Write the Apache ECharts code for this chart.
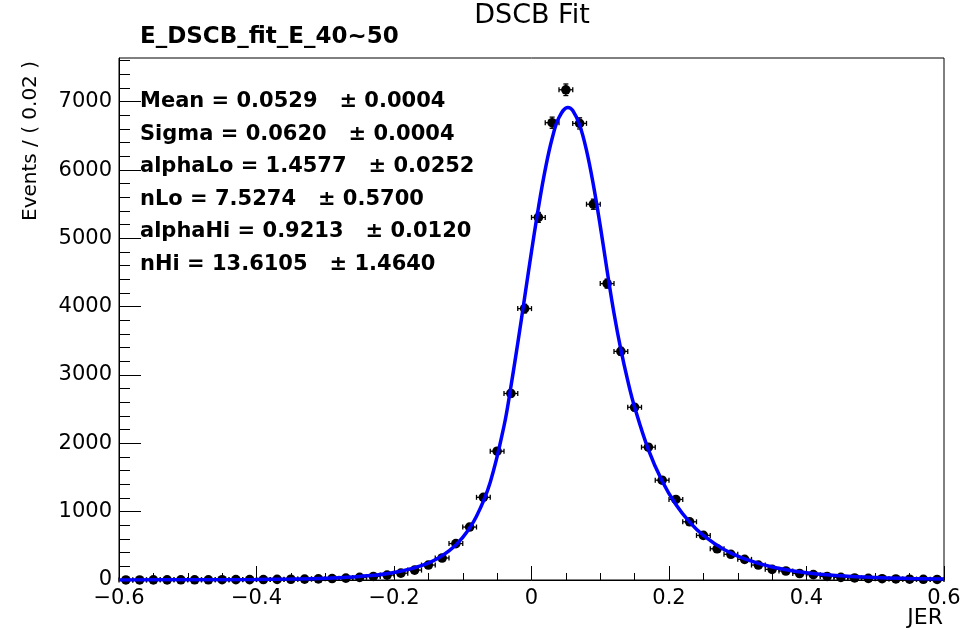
<!DOCTYPE html>
<html>
<head>
<meta charset="utf-8">
<script src="https://cdn.jsdelivr.net/npm/echarts@6/dist/echarts.min.js"></script>
<style>
  html, body { margin: 0; padding: 0; background: #fff; }
  #main { width: 968px; height: 630px; }
</style>
</head>
<body>
<div id="main"></div>
<script>
// histogram bins (width 0.02)
var binCenters = [-0.59, -0.57, -0.55, -0.53, -0.51, -0.49, -0.47, -0.45, -0.43, -0.41,
  -0.39, -0.37, -0.35, -0.33, -0.31, -0.29, -0.27, -0.25, -0.23, -0.21,
  -0.19, -0.17, -0.15, -0.13, -0.11, -0.09, -0.07, -0.05, -0.03, -0.01,
  0.01, 0.03, 0.05, 0.07, 0.09, 0.11, 0.13, 0.15, 0.17, 0.19,
  0.21, 0.23, 0.25, 0.27, 0.29, 0.31, 0.33, 0.35, 0.37, 0.39,
  0.41, 0.43, 0.45, 0.47, 0.49, 0.51, 0.53, 0.55, 0.57, 0.59];
var counts = [1, 1, 2, 2, 3, 3, 3, 4, 5, 6,
  7, 9, 11, 13, 17, 21, 27, 38, 52, 72,
  100, 145, 219, 322, 533, 775, 1210, 1885, 2730, 3972,
  5307, 6693, 7175, 6683, 5500, 4338, 3346, 2528, 1944, 1461,
  1179, 852, 653, 457, 376, 302, 219, 156, 132, 95,
  78, 52, 38, 30, 24, 19, 15, 12, 10, 8];
var halfBin = 0.01;

// fitted DSCB curve
var curveX = [-0.6, -0.5, -0.4, -0.35, -0.3, -0.25, -0.2, -0.15, -0.12, -0.1,
  -0.08, -0.06, -0.04, -0.03, -0.02, -0.01, 0, 0.01, 0.02, 0.03,
  0.04, 0.0529, 0.06, 0.07, 0.08, 0.09, 0.1, 0.11, 0.12, 0.13,
  0.14, 0.15, 0.17, 0.19, 0.21, 0.23, 0.25, 0.28, 0.31, 0.35,
  0.4, 0.45, 0.5, 0.55, 0.6];
var curveY = [1, 3, 8, 14, 26, 52, 109, 248, 425, 624,
  934, 1432, 2254, 2829, 3466, 4133, 4807, 5445, 6009, 6461,
  6769, 6917, 6872, 6659, 6287, 5783, 5183, 4526, 3905, 3371,
  2918, 2530, 1908, 1448, 1104, 847, 653, 446, 308, 191,
  107, 62, 36, 22, 13];

var yTicks = [0, 1000, 2000, 3000, 4000, 5000, 6000, 7000];
var yMax = 7640;
var statLines = [
  'Mean = 0.0529   \u00b1 0.0004',
  'Sigma = 0.0620   \u00b1 0.0004',
  'alphaLo = 1.4577   \u00b1 0.0252',
  'nLo = 7.5274   \u00b1 0.5700',
  'alphaHi = 0.9213   \u00b1 0.0120',
  'nHi = 13.6105   \u00b1 1.4640'
];

var yMinorTicks = [];
for (var v = 200; v < yMax; v += 200) {
  if (v % 1000 !== 0) yMinorTicks.push(v);
}

var FONT = 'DejaVu Sans';

function lineStyle() {
  return { stroke: '#000', lineWidth: 1.3 };
}

function renderPoint(params, api) {
  var x = api.value(0), y = api.value(1);
  var err = Math.sqrt(y);
  var p = api.coord([x, y]);
  var xl = api.coord([x - halfBin, y])[0];
  var xr = api.coord([x + halfBin, y])[0];
  var yt = api.coord([x, y + err])[1];
  var yb = api.coord([x, y - err])[1];
  var cap = 2.5;
  return {
    type: 'group',
    children: [
      { type: 'line', shape: { x1: xl, y1: p[1], x2: xr, y2: p[1] }, style: lineStyle() },
      { type: 'line', shape: { x1: xl, y1: p[1] - cap, x2: xl, y2: p[1] + cap }, style: lineStyle() },
      { type: 'line', shape: { x1: xr, y1: p[1] - cap, x2: xr, y2: p[1] + cap }, style: lineStyle() },
      { type: 'line', shape: { x1: p[0], y1: yt, x2: p[0], y2: yb }, style: lineStyle() },
      { type: 'line', shape: { x1: p[0] - cap, y1: yt, x2: p[0] + cap, y2: yt }, style: lineStyle() },
      { type: 'line', shape: { x1: p[0] - cap, y1: yb, x2: p[0] + cap, y2: yb }, style: lineStyle() },
      { type: 'circle', shape: { cx: p[0], cy: p[1], r: 4.8 }, style: { fill: '#000' } }
    ]
  };
}

var chartDom = document.getElementById('main');
var myChart = echarts.init(chartDom);
var option;
option = {
  animation: false,
  backgroundColor: '#fff',
  grid: {
    left: 119, right: 24, top: 58, bottom: 50,
    show: true, borderColor: '#000', borderWidth: 1, backgroundColor: 'transparent'
  },
  xAxis: {
    type: 'value',
    min: -0.6, max: 0.6, interval: 0.2,
    axisLine: { onZero: false, lineStyle: { color: '#000', width: 1 } },
    axisTick: { inside: true, length: 14, lineStyle: { color: '#000' } },
    minorTick: { show: true, splitNumber: 4, length: 7, lineStyle: { color: '#000' } },
    splitLine: { show: false },
    axisLabel: {
      color: '#000', fontFamily: FONT, fontSize: 21, margin: 8,
      formatter: function (v) {
        if (Math.abs(v) < 1e-9) return '0';
        return (v < 0 ? '\u2212' : '') + Math.abs(v).toFixed(1);
      }
    }
  },
  yAxis: [
    {
      type: 'value', min: 0, max: yMax, position: 'left',
      axisLine: { show: true, onZero: false, lineStyle: { color: '#000', width: 1 } },
      axisTick: { show: true, inside: true, length: 22, customValues: yTicks, lineStyle: { color: '#000' } },
      axisLabel: {
        color: '#000', fontFamily: FONT, fontSize: 21, margin: 7, customValues: yTicks,
        formatter: function (v) { return String(v); }
      },
      splitLine: { show: false }
    },
    {
      type: 'value', min: 0, max: yMax, position: 'left',
      axisLine: { show: false, onZero: false },
      axisTick: { show: true, inside: true, length: 11, customValues: yMinorTicks, lineStyle: { color: '#000' } },
      axisLabel: { show: false },
      splitLine: { show: false }
    }
  ],
  graphic: [
    {
      type: 'text', x: 532, y: 16,
      style: { text: 'DSCB Fit', fontFamily: FONT, fontSize: 27, fill: '#000', align: 'center', verticalAlign: 'middle' }
    },
    {
      type: 'text', x: 140, y: 37,
      style: { text: 'E_DSCB_fit_E_40~50', fontFamily: FONT, fontWeight: 'bold', fontSize: 23, fill: '#000', align: 'left', verticalAlign: 'middle' }
    },
    {
      type: 'text', x: 31, y: 141, rotation: Math.PI / 2,
      style: { text: 'Events / ( 0.02 )', fontFamily: FONT, fontSize: 20, fill: '#000', align: 'center', verticalAlign: 'middle' }
    },
    {
      type: 'text', x: 943, y: 618,
      style: { text: 'JER', fontFamily: FONT, fontSize: 22, fill: '#000', align: 'right', verticalAlign: 'middle' }
    },
    {
      type: 'text', x: 140, y: 85.5, z: 10,
      style: { text: statLines.join('\n'), fontFamily: FONT, fontWeight: 'bold', fontSize: 21, lineHeight: 32.5, fill: '#000', align: 'left', verticalAlign: 'top' }
    }
  ],
  series: [
    {
      type: 'custom',
      renderItem: renderPoint,
      encode: { x: 0, y: 1 },
      data: binCenters.map(function (x, i) { return [x, counts[i]]; }),
      z: 2
    },
    {
      type: 'line',
      data: curveX.map(function (x, i) { return [x, curveY[i]]; }),
      showSymbol: false,
      symbol: 'none',
      smooth: 0.4,
      lineStyle: { color: '#0000ff', width: 3.5 },
      z: 3
    }
  ]
};
option && myChart.setOption(option);
</script>
</body>
</html>
